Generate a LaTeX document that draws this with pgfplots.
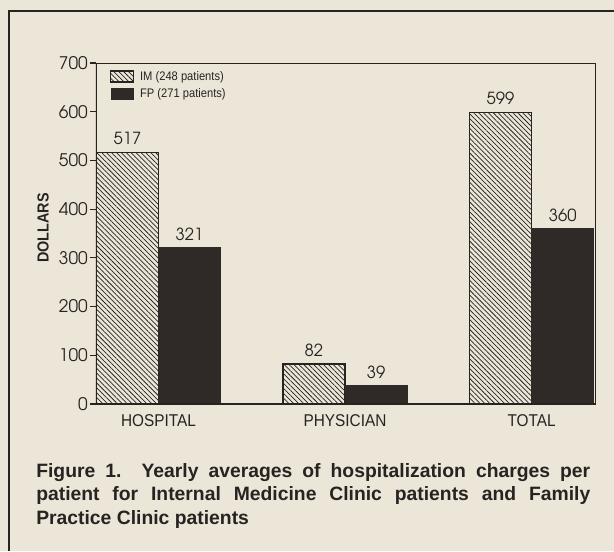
\documentclass[border=0pt]{standalone}
\usepackage{fontspec}
\setmainfont{Liberation Sans}
\newfontfamily\adv{texgyreadventor-regular.otf}
\newfontfamily\cond[FakeStretch=0.9]{Liberation Sans}
\usepackage{pgfplots}
\pgfplotsset{compat=1.18}
\usetikzlibrary{patterns.meta}
\definecolor{paper}{RGB}{236,230,217}
\definecolor{ink}{RGB}{40,35,33}
\definecolor{barfill}{RGB}{47,42,40}
\begin{document}
\begin{tikzpicture}[x=1pt,y=1pt]
\fill[paper] (0,0) rectangle (460.5,413.25);
\useasboundingbox (0,0) rectangle (460.5,413.25);
\draw[ink, line width=1.6pt] (6.75,0) -- (6.75,405) -- (460.5,405);
\begin{axis}[
  at={(72pt,110.25pt)}, anchor=south west,
  scale only axis, width=374.25pt, height=255.75pt,
  ybar legend/.style={legend image code/.code={\draw[##1] (0pt,-4.1pt) rectangle (17pt,4.1pt);}},
  ybar=0pt, bar width=0.333,
  xmin=-0.335, xmax=2.34, ymin=0, ymax=700,
  xtick={0,1,2}, xticklabels={HOSPITAL,PHYSICIAN,TOTAL},
  xtick style={draw=none},
  ytick={0,100,...,700}, ytick pos=left, tick align=outside,
  major tick length=4.5pt,
  ytick style={ink, line width=0.8pt},
  /pgf/number format/assume math mode=true,
  yticklabel style={font=\adv\fontsize{13}{14}\selectfont, color=ink, inner sep=0pt, xshift=-1.5pt},
  xticklabel style={font=\cond\fontsize{12.8}{14}\selectfont, color=ink},
  axis line style={ink, line width=0.6pt},
  ylabel={DOLLARS},
  ylabel style={at={(axis description cs:-0.106,0.516)}, anchor=center, font=\cond\bfseries\fontsize{12}{13}\selectfont, color=ink},
  nodes near coords,
  nodes near coords style={font=\adv\fontsize{12.5}{14}\selectfont, color=ink, yshift=1.5pt},
  legend style={draw=none, fill=none, at={(0.028,0.985)}, anchor=north west, inner sep=0pt,
    font=\cond\fontsize{9.3}{11}\selectfont, text=ink, row sep=0.5pt,
    /tikz/every odd column/.append style={column sep=2.5pt}},
  legend cell align=left,
]
\addplot[draw=ink, line width=0.9pt, pattern={Lines[angle=-45,distance=2.6pt,line width=0.55pt]}, pattern color=ink]
  coordinates {(0,517) (1,82) (2,599)};
\addplot[draw=barfill, fill=barfill]
  coordinates {(0,321) (1,39) (2,360)};
\legend{IM (248 patients), FP (271 patients)}
\draw[ink, line width=1.3pt] (rel axis cs:0,1) -- (rel axis cs:0,0) -- (rel axis cs:1,0);
\end{axis}
\node[anchor=north west, inner sep=0pt, text width=415.5pt, align=justify,
  font=\bfseries\fontsize{14.5}{17.6}\selectfont, text=ink] at (27,66)
  {Figure 1.\ \ Yearly averages of hospitalization charges per\linebreak patient for Internal Medicine Clinic patients and Family\linebreak Practice Clinic patients};
\end{tikzpicture}
\end{document}
